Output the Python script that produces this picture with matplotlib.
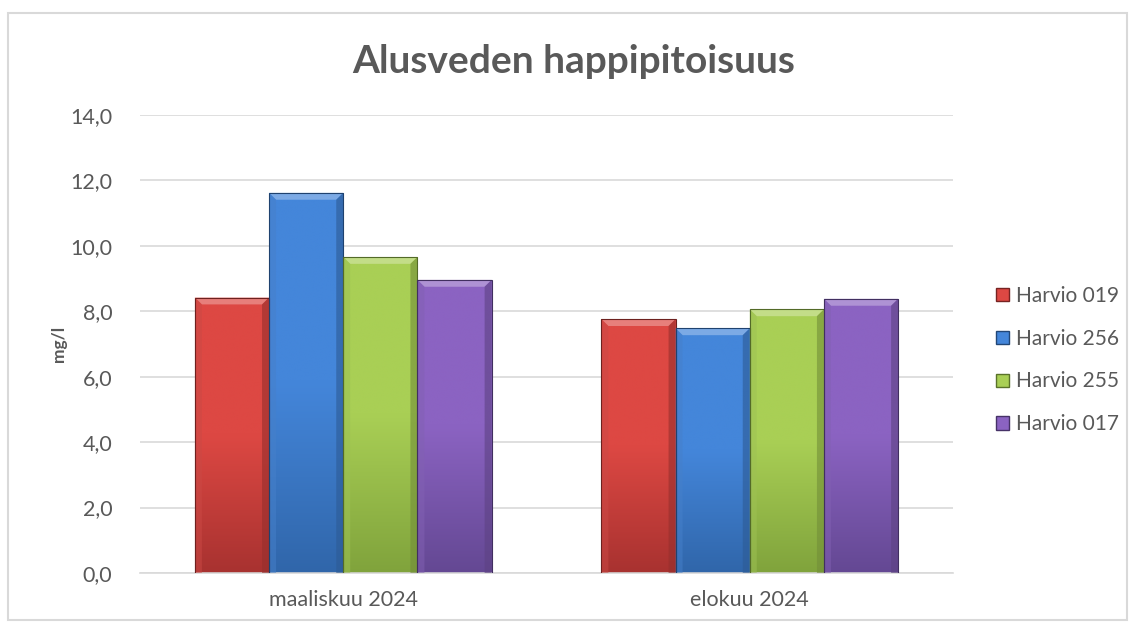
import matplotlib.pyplot as plt
import numpy as np
from matplotlib.patches import Polygon, Rectangle
from matplotlib.colors import to_rgb, LinearSegmentedColormap

# data
categories = ['maaliskuu 2024', 'elokuu 2024']
series = ['Harvio 019', 'Harvio 256', 'Harvio 255', 'Harvio 017']
values = [
    [8.42, 7.76],   # Harvio 019
    [11.62, 7.48],  # Harvio 256
    [9.66, 8.06],   # Harvio 255
    [8.96, 8.38],   # Harvio 017
]
yticks = [0, 2, 4, 6, 8, 10, 12, 14]

top_colors = ['#DD4843', '#4486DA', '#A9CF55', '#8B63C2']
bot_colors = ['#A83230', '#3066AA', '#80A33C', '#644893']

plt.rcParams['font.family'] = ['Lato', 'DejaVu Sans']
text_col = '#595959'
grid_col = '#D9D9D9'


def mix(c, other, t):
    a = np.array(to_rgb(c))
    b = np.array(to_rgb(other))
    return tuple(a * (1 - t) + b * t)


def bevel_bar(ax, rect, top, bot):
    x0, y0 = rect.get_x(), rect.get_y()
    w, h = rect.get_width(), rect.get_height()
    x1, y1 = x0 + w, y0 + h
    # vertical gradient clipped to the bar
    cmap = LinearSegmentedColormap.from_list('g', [bot, top, top])
    grad = np.linspace(0, 1, 256).reshape(-1, 1)
    im = ax.imshow(grad, extent=[x0, x1, y0, y1], origin='lower',
                   cmap=cmap, aspect='auto', zorder=2, interpolation='bicubic')
    im.set_clip_path(rect)
    # bevel edges (about 7 px)
    dx = 7 / 406
    dy = 0.21
    mid = mix(top, bot, 0.4)
    ax.add_patch(Polygon([(x0, y1), (x1, y1), (x1 - dx, y1 - dy), (x0 + dx, y1 - dy)],
                         closed=True, facecolor=mix(top, 'white', 0.3), edgecolor='none', zorder=3))
    ax.add_patch(Polygon([(x0, y0), (x0, y1), (x0 + dx, y1 - dy), (x0 + dx, y0)],
                         closed=True, facecolor=mix(mid, 'white', 0.05), edgecolor='none', zorder=3, alpha=0.5))
    ax.add_patch(Polygon([(x1, y0), (x1, y1), (x1 - dx, y1 - dy), (x1 - dx, y0)],
                         closed=True, facecolor=mix(mid, 'black', 0.25), edgecolor='none', zorder=3, alpha=0.6))
    ax.add_patch(Rectangle((x0, y0), w, h, facecolor='none',
                           edgecolor=mix(bot, 'black', 0.35), linewidth=0.8, zorder=4))


fig = plt.figure(figsize=(11.29, 6.25), dpi=100)
fig.patch.set_facecolor('white')

# outer chart border
fig.add_artist(Rectangle((8 / 1129, 5 / 625), 1 - 10 / 1129, 1 - 18 / 625,
                         transform=fig.transFigure, facecolor='none',
                         edgecolor='#D9D9D9', linewidth=1.5))

ax = fig.add_axes([140 / 1129, 52 / 625, 813 / 1129, 458 / 625])

x = np.arange(len(categories))
n = len(series)
bw = 0.73 / n
for i, s in enumerate(series):
    offs = x + (i - (n - 1) / 2) * bw
    bars = ax.bar(offs, values[i], width=bw, color=top_colors[i], label=s, zorder=1)
    for r in bars:
        r.set_alpha(0)
        clip = Rectangle((r.get_x(), r.get_y()), r.get_width(), r.get_height(),
                         transform=ax.transData, facecolor='none', edgecolor='none')
        ax.add_patch(clip)
        bevel_bar(ax, clip, top_colors[i], bot_colors[i])

ax.set_xlim(-0.5, 1.5)
ax.set_ylim(0, 14)
ax.set_yticks(yticks)
ax.set_yticklabels([f'{v:.1f}'.replace('.', ',') for v in yticks])
ax.set_xticks(x)
ax.set_xticklabels(categories)
ax.yaxis.grid(True, color=grid_col, linewidth=1.2)
ax.set_axisbelow(True)
for side in ['top', 'right', 'left']:
    ax.spines[side].set_visible(False)
ax.spines['bottom'].set_color(grid_col)
ax.spines['bottom'].set_linewidth(1.2)
ax.tick_params(axis='both', length=0, colors=text_col, labelsize=15.5)
ax.tick_params(axis='y', pad=20)
ax.tick_params(axis='x', pad=12)
ax.set_ylabel('mg/l', fontsize=12.5, fontweight='bold', color=text_col, labelpad=2)

fig.text(0.508, 0.902, 'Alusveden happipitoisuus', ha='center', va='center',
         fontsize=28, fontweight='bold', color=text_col)

handles = [Rectangle((0, 0), 1, 1, facecolor=top_colors[i],
                     edgecolor=mix(bot_colors[i], 'black', 0.3)) for i in range(n)]
ax.legend(handles, series, loc='center left', bbox_to_anchor=(1.03, 0.465),
          frameon=False, fontsize=15, handlelength=0.6, handleheight=0.6,
          handletextpad=0.35, labelspacing=1.1, labelcolor=text_col)

fig.savefig('out.png', dpi=100)
